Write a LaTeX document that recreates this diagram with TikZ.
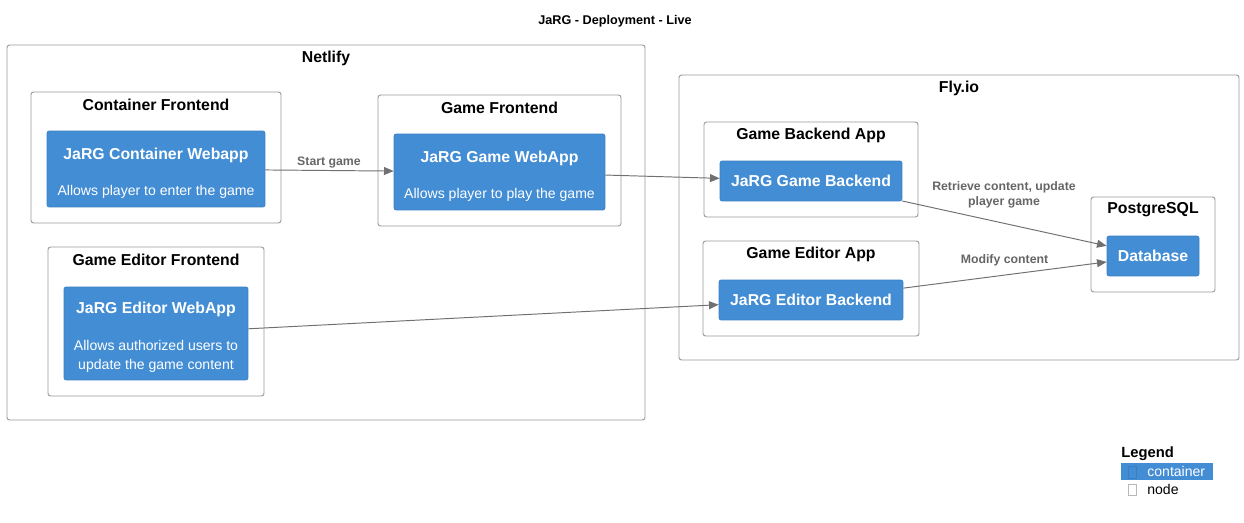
\documentclass[tikz,border=0pt]{standalone}
\usepackage{fontspec}
\setmainfont{Liberation Sans}
\usetikzlibrary{arrows.meta}

\definecolor{boxblue}{HTML}{438DD5}
\definecolor{boxedge}{HTML}{3C7FC0}
\definecolor{framegray}{HTML}{9A9A9A}
\definecolor{linkgray}{HTML}{707070}
\definecolor{labelgray}{HTML}{666666}

\newcommand{\descfont}{\fontsize{8}{10.2}\selectfont\mdseries}
\newcommand{\topstrut}{\rule{0pt}{11pt}}

\begin{document}
\begin{tikzpicture}[x=0.02cm,y=-0.02cm,
  frame/.style={draw=framegray,line width=0.55pt,rounded corners=1.5pt},
  grouptitle/.style={font=\fontsize{9}{11}\selectfont\bfseries,inner sep=0pt},
  ctr/.style={fill=boxblue,draw=boxedge,line width=0.4pt,rounded corners=1.2pt,
    text=white,align=center,inner sep=0pt,font=\fontsize{9}{11}\selectfont\bfseries},
  link/.style={draw=linkgray,line width=0.55pt,-{Triangle[length=5.5pt,width=4.5pt]}},
  linklabel/.style={font=\fontsize{7}{8.4}\selectfont\bfseries,text=labelgray,align=center,inner sep=0pt}]

  \useasboundingbox (0,0) rectangle (1244,523);

  % Title
  \node[font=\fontsize{7.2}{9}\selectfont\bfseries] (title) at (615,21) {JaRG - Deployment - Live};

  % Netlify
  \draw[frame] (7,45) rectangle (645,420);
  \node[grouptitle] (netlify) at (326,58) {Netlify};

  \draw[frame] (31,92) rectangle (281,223);
  \node[grouptitle] (contfe) at (156,105) {Container Frontend};
  \node[ctr,minimum width=4.36cm,minimum height=1.52cm] (contweb) at (156,169)
    {\topstrut JaRG Container Webapp\\[9.7pt]\descfont Allows player to enter the game};

  \draw[frame] (378,95) rectangle (621,226);
  \node[grouptitle] (gamefe) at (499.5,108) {Game Frontend};
  \node[ctr,minimum width=4.22cm,minimum height=1.52cm] (gameweb) at (499.5,172)
    {\topstrut JaRG Game WebApp\\[9.7pt]\descfont Allows player to play the game};

  \draw[frame] (48,247) rectangle (264,396);
  \node[grouptitle] (editfe) at (156,260) {Game Editor Frontend};
  \node[ctr,minimum width=3.68cm,minimum height=1.86cm] (editweb) at (156,333.5)
    {\topstrut JaRG Editor WebApp\\[9.7pt]\descfont Allows authorized users to\\\descfont update the game content};

  % Fly.io
  \draw[frame] (679,75) rectangle (1239,360);
  \node[grouptitle] (flyio) at (959,88) {Fly.io};

  \draw[frame] (704,122) rectangle (918,217);
  \node[grouptitle] (backapp) at (811,135) {Game Backend App};
  \node[ctr,minimum width=3.64cm,minimum height=0.8cm] (gameback) at (811,181) {JaRG Game Backend};

  \draw[frame] (703,241) rectangle (919,336);
  \node[grouptitle] (editapp) at (811,254) {Game Editor App};
  \node[ctr,minimum width=3.68cm,minimum height=0.8cm] (editback) at (811,300) {JaRG Editor Backend};

  \draw[frame] (1091,197) rectangle (1215,292);
  \node[grouptitle] (pgsql) at (1153,210) {PostgreSQL};
  \node[ctr,minimum width=1.84cm,minimum height=0.8cm] (db) at (1153,256) {Database};

  % Relations
  \draw[link] (contweb) -- (gameweb);
  \node[linklabel] (lblstart) at (329,163) {Start game};
  \draw[link] (gameweb) -- (gameback);
  \draw[link] (gameback) -- (db);
  \node[linklabel] (lblretr) at (1004,195) {Retrieve content, update\\player game};
  \draw[link] (editback) -- (db);
  \node[linklabel] (lblmod) at (1004.5,260) {Modify content};
  \draw[link] (editweb) -- (editback);

  % Legend
  \node[font=\fontsize{8.4}{10}\selectfont\bfseries,anchor=west,inner sep=0pt] (legend) at (1121,454) {Legend};
  \fill[boxblue] (1121,463) rectangle (1213,480);
  \draw[boxedge,line width=0.5pt] (1128,466) rectangle (1136,478);
  \node[font=\fontsize{8}{10}\selectfont,text=white,anchor=west,inner sep=0pt] (legctr) at (1147,471.5) {container};
  \draw[framegray!70,line width=0.5pt] (1128,484) rectangle (1136,495);
  \node[font=\fontsize{8}{10}\selectfont,anchor=west,inner sep=0pt] (legnode) at (1147,489) {node};
\end{tikzpicture}
\end{document}
